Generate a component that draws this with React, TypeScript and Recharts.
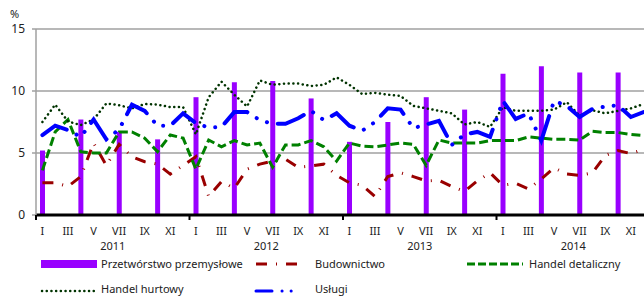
import React from 'react';
import { ComposedChart, Bar, Line, XAxis, YAxis, CartesianGrid } from 'recharts';

const monthNames = ['I', 'II', 'III', 'IV', 'V', 'VI', 'VII', 'VIII', 'IX', 'X', 'XI', 'XII'];
const years = [2011, 2012, 2013, 2014];

// quarterly values (I, IV, VII, X)
const przetworstwo = [5.2, 7.7, 6.7, 6.1, 9.5, 10.7, 10.8, 9.4, 5.9, 7.5, 9.5, 8.5, 11.4, 12.0, 11.5, 11.5];

const budownictwo = [
  2.6, 2.6, 2.3, 3.1, 5.8, 4.0, 5.7, 4.7, 4.3, 4.1, 3.3, 4.0,
  4.7, 1.5, 2.7, 2.15, 3.7, 4.1, 4.35, 4.5, 3.85, 3.95, 4.1, 3.2,
  2.6, 2.4, 1.5, 3.1, 3.4, 3.1, 2.75, 2.8, 2.3, 1.9, 2.75, 3.4,
  2.4, 2.55, 2.1, 2.9, 3.8, 3.3, 3.2, 3.4, 4.8, 5.2, 4.95, 5.3,
];

const detaliczny = [
  3.6, 6.7, 7.7, 5.1, 5.0, 5.0, 6.7, 6.7, 6.2, 5.1, 6.45, 6.2,
  3.7, 6.05, 5.5, 6.0, 5.65, 5.8, 3.85, 5.65, 5.65, 6.0, 5.5, 4.35,
  5.8, 5.55, 5.5, 5.65, 5.8, 5.7, 4.0, 6.05, 5.8, 5.8, 5.8, 6.0,
  6.0, 6.0, 6.3, 6.2, 6.1, 6.1, 6.05, 6.75, 6.65, 6.65, 6.5, 6.4,
];

const hurtowy = [
  7.5, 8.9, 7.55, 7.25, 7.7, 9.0, 8.85, 8.6, 8.95, 8.9, 8.7, 8.7,
  6.5, 9.5, 10.75, 9.7, 8.75, 10.85, 10.5, 10.6, 10.6, 10.4, 10.5, 11.1,
  10.5, 9.75, 9.85, 9.7, 9.6, 8.8, 8.6, 8.4, 8.2, 7.3, 7.5, 7.1,
  8.7, 8.4, 8.4, 8.4, 8.5, 9.1, 8.0, 8.45, 8.2, 8.4, 8.6, 8.95,
];

const uslugi = [
  6.45, 7.2, 6.85, 6.3, 7.7, 6.1, 6.9, 8.9, 8.4, 7.2, 7.2, 8.2,
  7.4, 7.05, 7.1, 8.3, 8.3, 7.65, 7.35, 7.35, 7.8, 8.4, 7.65, 8.2,
  7.2, 6.8, 7.5, 8.6, 8.5, 7.0, 7.3, 7.6, 5.65, 6.5, 6.7, 6.3,
  9.2, 7.75, 8.2, 6.0, 9.2, 8.8, 7.9, 8.55, 8.75, 8.85, 7.9, 8.3,
];

const data = budownictwo.map((_, i) => ({
  key: i,
  month: monthNames[i % 12],
  year: years[Math.floor(i / 12)],
  przetworstwo: i % 3 === 0 ? przetworstwo[i / 3] : null,
  budownictwo: budownictwo[i],
  detaliczny: detaliczny[i],
  hurtowy: hurtowy[i],
  uslugi: uslugi[i],
}));

const FONT = '"Noto Sans", "DejaVu Sans", sans-serif';
const TEXT = '#222';

const MonthTick = (props: any) => {
  const { x, y, payload } = props;
  const i = payload.index;
  const half = payload.offset || 6.4;
  return (
    <g>
      {i % 12 === 0 && (
        <line x1={x - half} x2={x - half} y1={y} y2={y + 5} stroke="#000" strokeWidth={2} />
      )}
      {i % 2 === 0 && (
        <text x={x} y={y + 20} textAnchor="middle" fontSize={11} fill={TEXT} fontFamily={FONT}>
          {monthNames[i % 12]}
        </text>
      )}
      {i % 12 === 6 && (
        <text x={x - half} y={y + 35} textAnchor="middle" fontSize={11} fill={TEXT} fontFamily={FONT}>
          {data[i].year}
        </text>
      )}
    </g>
  );
};

const Legend = () => (
  <svg width={644} height={297} style={{ position: 'absolute', left: 0, top: 0, pointerEvents: 'none' }}>
    <g fontFamily={FONT} fontSize={11} fill={TEXT}>
      <rect x={41} y={260} width={56} height={8} fill="#9900ff" />
      <text x={101} y={268}>Przetwórstwo przemysłowe</text>
      <line x1={256} x2={302} y1={264} y2={264} stroke="#990000" strokeWidth={3} strokeDasharray="11 9 1 9" />
      <text x={315} y={268}>Budownictwo</text>
      <line x1={467} x2={523} y1={264} y2={264} stroke="#008000" strokeWidth={3} strokeDasharray="8 3" />
      <text x={529} y={268}>Handel detaliczny</text>
      <line x1={42} x2={96} y1={291} y2={291} stroke="#003300" strokeWidth={2.5} strokeLinecap="round" strokeDasharray="0.1 4.6" />
      <text x={101} y={293}>Handel hurtowy</text>
      <line x1={256} x2={302} y1={291} y2={291} stroke="#0000ff" strokeWidth={3} strokeLinecap="round" strokeDasharray="16 10 0.1 9 0.1 20" />
      <text x={315} y={293}>Usługi</text>
    </g>
    <text x={10} y={18} fontFamily={FONT} fontSize={11} fill={TEXT}>%</text>
  </svg>
);

export default function App() {
  return (
    <div style={{ position: 'absolute', left: 0, top: 0, width: 644, height: 297, overflow: 'hidden', background: '#fff' }}>
      <ComposedChart
        width={660}
        height={297}
        data={data}
        margin={{ top: 29, right: 10, bottom: 40, left: 0 }}
        barCategoryGap={0}
      >
        <CartesianGrid vertical={false} stroke="#a0a0a0" strokeWidth={1.5} />
        <XAxis
          dataKey="key"
          interval={0}
          height={42}
          tickSize={0}
          tickMargin={0}
          tick={<MonthTick />}
          axisLine={{ stroke: '#000', strokeWidth: 3 }}
          tickLine={false}
        />
        <YAxis
          domain={[0, 15]}
          ticks={[0, 5, 10, 15]}
          width={36}
          tickSize={4}
          tickMargin={7}
          axisLine={{ stroke: '#a0a0a0', strokeWidth: 1.5 }}
          tickLine={{ stroke: '#a0a0a0', strokeWidth: 1.5 }}
          tick={{ fontSize: 12, fill: TEXT, fontFamily: FONT }}
        />
        <Bar dataKey="przetworstwo" fill="#9900ff" barSize={5} isAnimationActive={false} />
        <Line
          type="linear"
          dataKey="budownictwo"
          stroke="#990000"
          strokeWidth={3}
          strokeDasharray="11 9 1 9"
          dot={false}
          activeDot={false}
          isAnimationActive={false}
        />
        <Line
          type="linear"
          dataKey="detaliczny"
          stroke="#008000"
          strokeWidth={3}
          strokeDasharray="9 4"
          dot={false}
          activeDot={false}
          isAnimationActive={false}
        />
        <Line
          type="linear"
          dataKey="hurtowy"
          stroke="#003300"
          strokeWidth={2.5}
          strokeLinecap="round"
          strokeDasharray="0.1 4.6"
          dot={false}
          activeDot={false}
          isAnimationActive={false}
        />
        <Line
          type="linear"
          dataKey="uslugi"
          stroke="#0000ff"
          strokeWidth={4}
          strokeLinecap="round"
          strokeDasharray="28 11 0.1 11 0.1 11"
          dot={false}
          activeDot={false}
          isAnimationActive={false}
        />
      </ComposedChart>
      <Legend />
    </div>
  );
}
